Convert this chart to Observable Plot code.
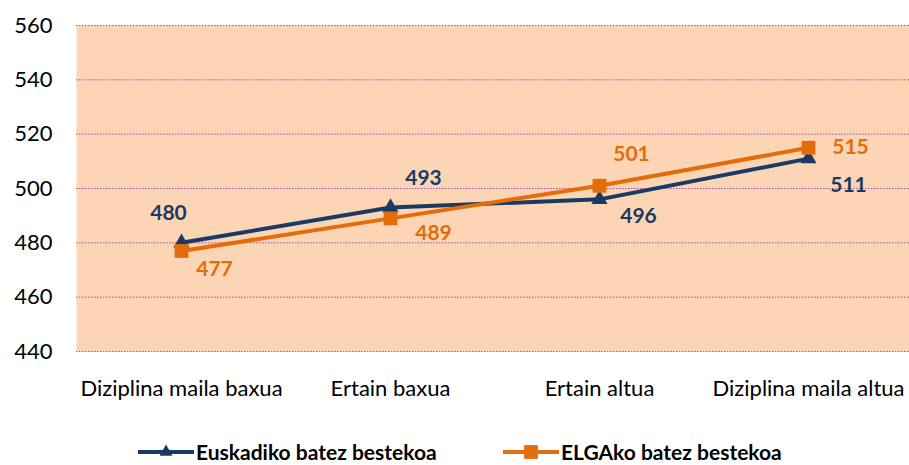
<!DOCTYPE html>
<html><head><meta charset="utf-8">
<script src="https://cdn.jsdelivr.net/npm/d3@7"></script>
<script src="https://cdn.jsdelivr.net/npm/@observablehq/plot@0.6"></script>
<style>
body{margin:0;background:#fff;font-family:Lato,sans-serif;overflow:hidden}
#legend{position:relative;width:909px;height:40px}
.item{position:absolute;top:27px;height:26px;display:flex;align-items:center;transform:translateY(-50%);font-weight:bold;font-size:21px;line-height:26px;color:#000}
.item svg{margin-right:2px}
</style>
</head><body><div id="chart"></div><div id="legend"></div>
<script>
const categories = ["Diziplina maila baxua", "Ertain baxua", "Ertain altua", "Diziplina maila altua"];
const seriesNames = ["Euskadiko batez bestekoa", "ELGAko batez bestekoa"];
const euskadi = [480, 493, 496, 511];
const elga = [477, 489, 501, 515];
const yTicks = [440, 460, 480, 500, 520, 540, 560];

// label offsets (pixels) relative to each point
const euskadiLabelOffsets = [[-13, -30], [33, -29], [39, 17], [40, 27]];
const elgaLabelOffsets = [[33, 18], [43, 15], [32, -32], [42, 0]];

const colors = ["#1B3A63", "#E46C0A"];
const symbols = ["triangle", "square"];

const rows = [];
categories.forEach((c, i) => {
  rows.push({cat: c, value: euskadi[i], series: seriesNames[0], off: euskadiLabelOffsets[i]});
});
categories.forEach((c, i) => {
  rows.push({cat: c, value: elga[i], series: seriesNames[1], off: elgaLabelOffsets[i]});
});

const marks = [
  Plot.frame({fill: "#FCD5B5", stroke: null}),
  Plot.gridY(yTicks, {stroke: "#A64CA6", strokeOpacity: 1, strokeWidth: 1, strokeDasharray: "1.5,1.5"}),
  Plot.axisY(yTicks, {tickSize: 0, tickPadding: 24, fontSize: 22, fill: "#000", line: true, stroke: "#8C8C8C", strokeWidth: 2.5, label: null}),
  Plot.axisX({tickSize: 0, tickPadding: 29, fontSize: 22, fill: "#000", line: true, stroke: "#A0A0A0", strokeWidth: 2.5, label: null})
];
seriesNames.forEach((s, k) => {
  const d = rows.filter(r => r.series === s);
  marks.push(Plot.line(d, {x: "cat", y: "value", stroke: colors[k], strokeWidth: 4}));
  marks.push(Plot.dot(d, {x: "cat", y: "value", symbol: symbols[k], fill: colors[k], r: k === 0 ? 6 : 7.8, stroke: null}));
});
rows.forEach(r => {
  const k = seriesNames.indexOf(r.series);
  marks.push(Plot.text([r], {x: "cat", y: "value", text: d => String(d.value), dx: r.off[0], dy: r.off[1], fill: colors[k], fontSize: 21, fontWeight: "bold"}));
});

const chart = Plot.plot({
  width: 909,
  height: 425,
  marginTop: 25,
  marginBottom: 74,
  marginLeft: 76,
  marginRight: -3,
  style: {fontFamily: "Lato, sans-serif", background: "#fff"},
  x: {type: "point", domain: categories, padding: 0.5, label: null},
  y: {domain: [440, 560], label: null},
  marks
});
document.getElementById("chart").appendChild(chart);

// legend
const legend = document.getElementById("legend");
const legendX = [138, 503];
seriesNames.forEach((s, k) => {
  const item = document.createElement("div");
  item.className = "item";
  item.style.left = legendX[k] + "px";
  const svg = d3.create("svg").attr("width", 56).attr("height", 20);
  svg.append("line").attr("x1", 0).attr("x2", 56).attr("y1", 10).attr("y2", 10).attr("stroke", colors[k]).attr("stroke-width", 4);
  const sym = k === 0 ? d3.symbol(d3.symbolTriangle2, 120) : d3.symbol(d3.symbolSquare, 190);
  svg.append("path").attr("d", sym()).attr("transform", "translate(28,10)").attr("fill", colors[k]);
  item.appendChild(svg.node());
  const t = document.createElement("span");
  t.textContent = s;
  item.appendChild(t);
  legend.appendChild(item);
});
</script>
</body></html>
